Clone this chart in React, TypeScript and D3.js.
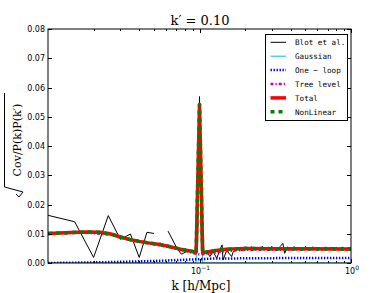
import React, { useEffect, useRef } from "react";
import * as d3 from "d3";

// Blot et al. (simulation), NaN = missing bin
const blotK = [
  0.01, 0.015, 0.02, 0.025, 0.03, 0.035, 0.04, 0.045, 0.05, 0.055, 0.062, 0.071,
  0.076, 0.082, 0.087, 0.092, 0.097, 0.1, 0.103, 0.108, 0.112, 0.117, 0.123,
  0.13, 0.136, 0.141, 0.143, 0.151, 0.163, 0.167, 0.18, 0.19, 0.2, 0.21, 0.22,
  0.23, 0.24, 0.25, 0.26, 0.27, 0.28, 0.29, 0.3, 0.31, 0.32, 0.33, 0.34, 0.355,
  0.365, 0.38, 0.4, 0.42, 0.44, 0.46, 0.48, 0.5, 0.53, 0.56, 0.59, 0.62, 0.65,
  0.68, 0.71, 0.74, 0.77, 0.8, 0.84, 0.88, 0.92, 0.96, 1.0,
];
const blotVals = [
  0.0163, 0.0141, 0.0019, 0.0162, 0.0081, 0.0099, 0.0019, 0.0105, 0.0101, NaN,
  0.0109, 0.005, 0.003, 0.0039, 0.0042, 0.0034, 0.0037, 0.0569, 0.0036, 0.0035,
  0.004, 0.0022, 0.0039, 0.0016, 0.0044, 0.0062, 0.001, 0.0043, 0.0022, 0.0039,
  0.005, 0.0042, 0.0055, 0.0046, 0.0056, 0.0044, 0.0053, 0.0042, 0.0057, 0.0045,
  0.0052, 0.0041, 0.0057, 0.0044, 0.0053, 0.0046, 0.0056, 0.0067, 0.0033, 0.0055,
  0.0044, 0.0056, 0.0046, 0.0054, 0.0043, 0.0056, 0.0045, 0.0055, 0.0046, 0.0053,
  0.0044, 0.0055, 0.0047, 0.0054, 0.0045, 0.0053, 0.0046, 0.0054, 0.0047, 0.0052,
  0.0049,
];

const gaussK = [0.01, 0.095, 0.1, 0.105, 1.0];
const gaussVals = [0, 0, 0.05, 0, 0];

const oneLoopK = [0.01, 0.02, 0.03, 0.05, 0.07, 0.09, 0.1, 0.12, 0.2, 0.4, 1.0];
const oneLoopVals = [0.0, 0.0002, 0.0004, 0.0007, 0.001, 0.0012, 0.0013, 0.0015, 0.0016, 0.0017, 0.0017];

const treeK = [0.01, 0.018, 0.026, 0.035, 0.047, 0.065, 0.085, 0.095, 0.1, 0.11, 0.15, 0.2, 0.5, 1.0];
const treeVals = [0.01, 0.0104, 0.0097, 0.0078, 0.0066, 0.0053, 0.0039, 0.0031, 0.0029, 0.0031, 0.0041, 0.0045, 0.0046, 0.0046];

const totalK = [
  0.01, 0.014, 0.018, 0.022, 0.026, 0.03, 0.035, 0.04, 0.047, 0.055, 0.065, 0.075,
  0.085, 0.093, 0.095, 0.1, 0.105, 0.11, 0.125, 0.15, 0.2, 0.3, 0.5, 1.0,
];
const totalVals = [
  0.0101, 0.0104, 0.0106, 0.0105, 0.0099, 0.0089, 0.008, 0.0074, 0.0068, 0.0063,
  0.0055, 0.0047, 0.0042, 0.0038, 0.0037, 0.0542, 0.0034, 0.0037, 0.0042, 0.0047,
  0.005, 0.0049, 0.0049, 0.0048,
];
const nonLinearVals = [
  0.0101, 0.0104, 0.0106, 0.0105, 0.0099, 0.0089, 0.008, 0.0074, 0.0068, 0.0063,
  0.0055, 0.0047, 0.0042, 0.0038, 0.0037, 0.0542, 0.0034, 0.0037, 0.0042, 0.0047,
  0.005, 0.0049, 0.0049, 0.0048,
];

const yTicks = [0, 0.01, 0.02, 0.03, 0.04, 0.05, 0.06, 0.07, 0.08];
const xMajorTicks = [0.1, 1];
const xMajorLabels = ["\u22121", "0"];
const xMinorTicks = [0.02, 0.03, 0.04, 0.05, 0.06, 0.07, 0.08, 0.09, 0.2, 0.3, 0.4, 0.5, 0.6, 0.7, 0.8, 0.9];
const legendLabels = ["Blot et al.", "Gaussian", "One \u2212 loop", "Tree level", "Total", "NonLinear"];

const W = 390;
const H = 293;

const App: React.FC = () => {
  const ref = useRef<SVGSVGElement | null>(null);

  useEffect(() => {
    if (!ref.current) return;
    const svg = d3.select(ref.current);
    svg.selectAll("*").remove();

    const left = 48, right = 351, top = 29, bottom = 263;
    const x = d3.scaleLog().domain([0.01, 1]).range([left, right]);
    const y = d3.scaleLinear().domain([0, 0.08]).range([bottom, top]);

    svg.append("defs").append("clipPath").attr("id", "plotclip")
      .append("rect").attr("x", left).attr("y", top)
      .attr("width", right - left).attr("height", bottom - top);

    const line = d3.line<[number, number]>()
      .defined((d) => !isNaN(d[1]))
      .x((d) => x(d[0]))
      .y((d) => y(d[1]));

    // series styles (order = legend order)
    const styles = [
      { color: "#000000", width: 1, dash: null as string | null },
      { color: "#00bfbf", width: 1, dash: null },
      { color: "#0000ff", width: 2.5, dash: "1.4,1.6" },
      { color: "#bf00bf", width: 2.5, dash: "3,2,1.2,2" },
      { color: "#ff0000", width: 3.5, dash: null },
      { color: "#008000", width: 3.5, dash: "4,4" },
    ];
    const series: [number[], number[]][] = [
      [blotK, blotVals],
      [gaussK, gaussVals],
      [oneLoopK, oneLoopVals],
      [treeK, treeVals],
      [totalK, totalVals],
      [totalK, nonLinearVals],
    ];

    const plot = svg.append("g").attr("clip-path", "url(#plotclip)");
    series.forEach(([ks, vs], i) => {
      const s = styles[i];
      const pts = ks.map((k, j) => [k, vs[j]] as [number, number]);
      plot.append("path")
        .attr("d", line(pts))
        .attr("fill", "none")
        .attr("stroke", s.color)
        .attr("stroke-width", s.width)
        .attr("stroke-dasharray", s.dash)
        .attr("stroke-linejoin", "round");
    });

    // frame
    svg.append("rect")
      .attr("x", left).attr("y", top)
      .attr("width", right - left).attr("height", bottom - top)
      .attr("fill", "none").attr("stroke", "#000").attr("stroke-width", 1);

    // y ticks (inward, both sides)
    yTicks.forEach((t) => {
      const yy = Math.round(y(t)) + 0.5;
      svg.append("line").attr("x1", left).attr("x2", left + 4)
        .attr("y1", yy).attr("y2", yy).attr("stroke", "#000");
      svg.append("line").attr("x1", right - 4).attr("x2", right)
        .attr("y1", yy).attr("y2", yy).attr("stroke", "#000");
      svg.append("text")
        .attr("x", left - 3).attr("y", y(t) + 3)
        .attr("text-anchor", "end")
        .style("font-family", "DejaVu Sans")
        .style("font-size", "8px")
        .text(t.toFixed(2));
    });

    // x ticks
    xMinorTicks.forEach((t) => {
      const xx = Math.round(x(t)) + 0.5;
      svg.append("line").attr("x1", xx).attr("x2", xx)
        .attr("y1", bottom).attr("y2", bottom - 2).attr("stroke", "#000");
      svg.append("line").attr("x1", xx).attr("x2", xx)
        .attr("y1", top).attr("y2", top + 2).attr("stroke", "#000");
    });
    xMajorTicks.forEach((t, i) => {
      const xx = Math.round(x(t)) + 0.5;
      svg.append("line").attr("x1", xx).attr("x2", xx)
        .attr("y1", bottom).attr("y2", bottom - 4).attr("stroke", "#000");
      svg.append("line").attr("x1", xx).attr("x2", xx)
        .attr("y1", top).attr("y2", top + 4).attr("stroke", "#000");
      const tx = svg.append("text")
        .attr("x", x(t) + 1).attr("y", bottom + 11)
        .attr("text-anchor", "middle")
        .style("font-family", "DejaVu Sans")
        .style("font-size", "8px");
      tx.append("tspan").text("10");
      tx.append("tspan").attr("dy", -4).style("font-size", "6px").text(xMajorLabels[i]);
    });

    // title
    svg.append("text")
      .attr("x", 200).attr("y", 25)
      .attr("text-anchor", "middle")
      .style("font-family", "DejaVu Serif")
      .style("font-size", "13px")
      .text("k\u2032 = 0.10");

    // x label
    svg.append("text")
      .attr("x", 201).attr("y", 290)
      .attr("text-anchor", "middle")
      .style("font-family", "DejaVu Serif")
      .style("font-size", "12px")
      .text("k [h/Mpc]");

    // y label with radical
    svg.append("text")
      .attr("transform", "translate(21,140) rotate(-90)")
      .attr("text-anchor", "middle")
      .style("font-family", "DejaVu Serif")
      .style("font-size", "11px")
      .text("Cov/P(k)P(k\u2032)");
    svg.append("path")
      .attr("d", "M4.5,93 L4.5,187 L23,192 L19,197 L16,194")
      .attr("fill", "none").attr("stroke", "#000").attr("stroke-width", 1);

    // legend
    const lg = svg.append("g");
    lg.append("rect")
      .attr("x", 265.5).attr("y", 34.5).attr("width", 82).attr("height", 86)
      .attr("fill", "#fff").attr("stroke", "#000").attr("stroke-width", 1);
    legendLabels.forEach((lab, i) => {
      const s = styles[i];
      const ly = 42.3 + i * 13.9;
      lg.append("line")
        .attr("x1", 270.5).attr("x2", 286).attr("y1", ly).attr("y2", ly)
        .attr("stroke", s.color)
        .attr("stroke-width", s.width)
        .attr("stroke-dasharray", s.dash);
      lg.append("text")
        .attr("x", 295).attr("y", ly + 3)
        .style("font-family", "DejaVu Sans Mono")
        .style("font-size", "7.6px")
        .text(lab);
    });
  }, []);

  return (
    <svg
      ref={ref}
      width={W}
      height={H}
      style={{ position: "absolute", left: 0, top: 0, background: "#fff" }}
    ></svg>
  );
};

export default App;
